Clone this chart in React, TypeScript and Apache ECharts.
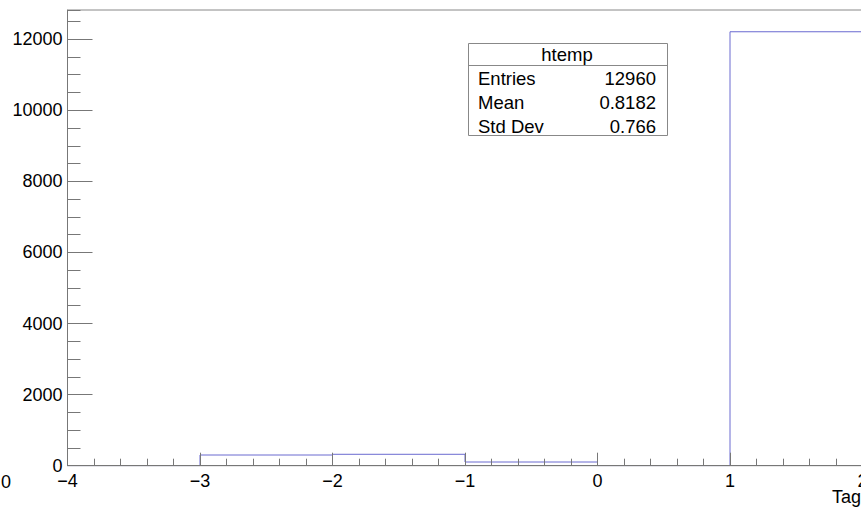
import React, { useEffect, useRef } from "react";
import * as echarts from "echarts";

// Histogram bins (lower edges) and counts
const binEdges = [-4, -3, -2, -1, 0, 1, 2, 3, 4];
const binCounts = [0, 301, 321, 104, 0, 12208, 26, 0];
const yMajorTicks = [0, 2000, 4000, 6000, 8000, 10000, 12000];
const statsTitle = "htemp";
const statsLabels = ["Entries", "Mean", "Std Dev"];
const statsValues = ["12960", "0.8182", "0.766"];

const FONT = "'Liberation Sans', Arial, Helvetica, sans-serif";

function stepData(): number[][] {
  const pts: number[][] = [];
  for (let i = 0; i < binCounts.length; i++) {
    pts.push([binEdges[i], binCounts[i]]);
    pts.push([binEdges[i + 1], binCounts[i]]);
  }
  return pts;
}

export default function App() {
  const ref = useRef<HTMLDivElement>(null);
  useEffect(() => {
    if (!ref.current) return;
    const chart = echarts.init(ref.current, undefined, { renderer: "svg" });
    const yMax = 12820;
    const fmt = (v: number) => (v < 0 ? "\u2212" + Math.abs(v) : String(v));
    const graphics: any[] = [
      {
        type: "rect",
        z: 100,
        shape: { x: 468.5, y: 43.5, width: 199, height: 92 },
        style: { fill: "#fff", stroke: "#888", lineWidth: 1 },
      },
      {
        type: "line",
        z: 101,
        shape: { x1: 468.5, y1: 65.5, x2: 667.5, y2: 65.5 },
        style: { stroke: "#888", lineWidth: 1 },
      },
      {
        type: "text",
        z: 101,
        x: 567,
        y: 54,
        style: { text: statsTitle, font: `18.5px ${FONT}`, fill: "#000", align: "center", verticalAlign: "middle" },
      },
      {
        type: "text",
        x: 1,
        y: 482,
        style: { text: "0", font: `18px ${FONT}`, fill: "#000", align: "left", verticalAlign: "middle" },
      },
      {
        type: "text",
        x: 832,
        y: 497,
        style: { text: "Tag", font: `18px ${FONT}`, fill: "#000", align: "left", verticalAlign: "middle" },
      },
    ];
    statsLabels.forEach((lab, i) => {
      const y = 78 + i * 24;
      graphics.push({
        type: "text",
        z: 101,
        x: 478,
        y,
        style: { text: lab, font: `18.5px ${FONT}`, fill: "#000", align: "left", verticalAlign: "middle" },
      });
      graphics.push({
        type: "text",
        z: 101,
        x: 656,
        y,
        style: { text: statsValues[i], font: `18.5px ${FONT}`, fill: "#000", align: "right", verticalAlign: "middle" },
      });
    });

    chart.setOption({
      animation: false,
      backgroundColor: "#fff",
      grid: {
        left: 67.5,
        top: 10,
        right: 72.5,
        bottom: 42.3,
        show: true,
        borderColor: "#888",
        borderWidth: 1,
        backgroundColor: "transparent",
      },
      xAxis: [
        {
          type: "value",
          min: -4,
          max: 4,
          interval: 1,
          z: 5,
          axisLine: { show: true, onZero: false, lineStyle: { color: "#777", width: 1 } },
          axisTick: { show: true, inside: true, length: 13, lineStyle: { color: "#777" } },
          minorTick: { show: true, splitNumber: 5, length: 7, lineStyle: { color: "#777" } },
          splitLine: { show: false },
          axisLabel: { show: true, margin: 6.5, color: "#000", fontSize: 18, fontFamily: FONT, formatter: fmt },
        },
      ],
      yAxis: [
        {
          type: "value",
          position: "left",
          min: 0,
          max: yMax,
          interval: 2000,
          z: 5,
          axisLine: { show: true, onZero: false, lineStyle: { color: "#777", width: 1 } },
          axisTick: { show: true, inside: true, length: 25, lineStyle: { color: "#777" } },
          splitLine: { show: false },
          axisLabel: {
            show: true,
            margin: 5,
            color: "#000",
            fontSize: 18,
            fontFamily: FONT,
            showMaxLabel: false,
            formatter: (v: number) => (yMajorTicks.includes(v) ? String(v) : ""),
          },
        },
        {
          type: "value",
          position: "left",
          offset: 0,
          min: 0,
          max: yMax,
          interval: 500,
          z: 5,
          axisLine: { show: false, onZero: false },
          axisTick: { show: true, inside: true, length: 13, lineStyle: { color: "#777" } },
          splitLine: { show: false },
          axisLabel: { show: false },
        },
      ],
      series: [
        {
          type: "line",
          xAxisIndex: 0,
          yAxisIndex: 0,
          data: stepData(),
          showSymbol: false,
          symbol: "none",
          lineStyle: { color: "#6a6ad0", width: 1 },
          z: 2,
        },
      ],
      graphic: graphics,
    });
    return () => chart.dispose();
  }, []);
  return (
    <div style={{ position: "fixed", left: 0, top: 0, width: 861, height: 508, overflow: "hidden", background: "#fff" }}>
      <div ref={ref} style={{ width: 1200, height: 508 }} />
    </div>
  );
}
